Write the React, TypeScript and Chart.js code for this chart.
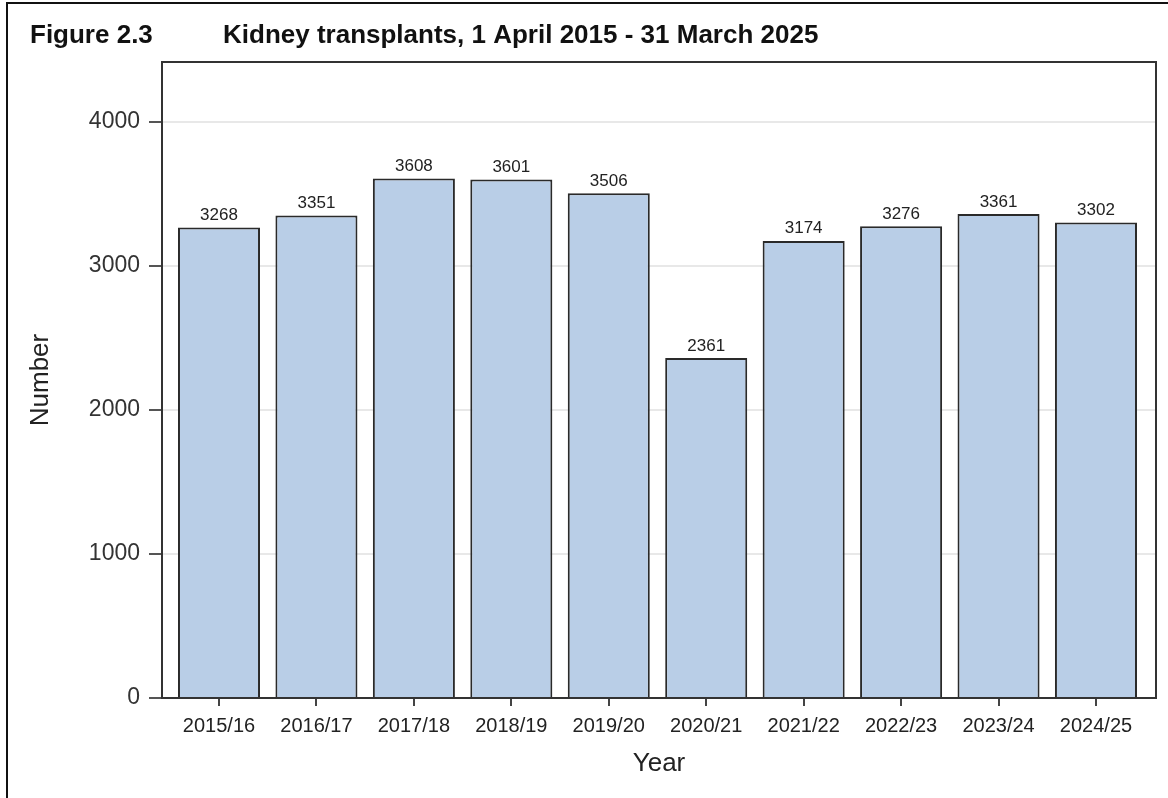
import React, { useEffect, useRef } from "react";
import { Chart, registerables } from "chart.js";

Chart.register(...registerables);

const categories = ["2015/16", "2016/17", "2017/18", "2018/19", "2019/20", "2020/21", "2021/22", "2022/23", "2023/24", "2024/25"];
const transplants = [3268, 3351, 3608, 3601, 3506, 2361, 3174, 3276, 3361, 3302];
const yTicks = [0, 1000, 2000, 3000, 4000];
const figureLabel = "Figure 2.3";
const figureTitle = "Kidney transplants, 1 April 2015 - 31 March 2025";
const yTitle = "Number";
const xTitle = "Year";

const FONT = "'Liberation Sans', Arial, sans-serif";

const decorPlugin = {
  id: "decor",
  beforeDraw(chart: any) {
    const ctx = chart.ctx;
    ctx.save();
    ctx.fillStyle = "#ffffff";
    ctx.fillRect(0, 0, chart.width, chart.height);
    // outer figure border (top + left)
    ctx.strokeStyle = "#111";
    ctx.lineWidth = 2;
    ctx.beginPath();
    ctx.moveTo(7, chart.height);
    ctx.lineTo(7, 3);
    ctx.lineTo(chart.width, 3);
    ctx.stroke();
    // titles
    ctx.fillStyle = "#111";
    ctx.font = `bold 26px ${FONT}`;
    ctx.textBaseline = "alphabetic";
    ctx.textAlign = "left";
    ctx.fillText(figureLabel, 30, 43);
    ctx.fillText(figureTitle, 223, 43);
    ctx.restore();
  },
  afterDatasetsDraw(chart: any) {
    const ctx = chart.ctx;
    const area = chart.chartArea;
    ctx.save();
    // data labels
    const meta = chart.getDatasetMeta(0);
    ctx.fillStyle = "#222";
    ctx.font = `17px ${FONT}`;
    ctx.textAlign = "center";
    ctx.textBaseline = "alphabetic";
    meta.data.forEach((el: any, i: number) => {
      ctx.fillText(String(transplants[i]), el.x, el.y - 7.5);
    });
    // frame top + right
    ctx.strokeStyle = "#333";
    ctx.lineWidth = 2;
    ctx.beginPath();
    ctx.moveTo(area.left, area.top);
    ctx.lineTo(area.right, area.top);
    ctx.lineTo(area.right, area.bottom);
    ctx.stroke();
    // axis titles
    ctx.fillStyle = "#222";
    ctx.font = `26px ${FONT}`;
    ctx.textAlign = "center";
    ctx.textBaseline = "middle";
    ctx.fillText(xTitle, (area.left + area.right) / 2, 764);
    ctx.translate(41, (area.top + area.bottom) / 2);
    ctx.rotate(-Math.PI / 2);
    ctx.fillText(yTitle, 0, 0);
    ctx.restore();
  },
};

export default function App() {
  const ref = useRef<HTMLCanvasElement | null>(null);
  useEffect(() => {
    if (!ref.current) return;
    const chart = new Chart(ref.current, {
      type: "bar",
      data: {
        datasets: [
          {
            data: transplants.map((v, i) => ({ x: i, y: v })),
            backgroundColor: "#b9cee7",
            borderColor: "#2a2a2a",
            borderWidth: 2,
            categoryPercentage: 1,
            barPercentage: 0.842,
          } as any,
        ],
      },
      options: {
        responsive: false,
        animation: false,
        devicePixelRatio: 1,
        layout: { padding: { left: 0, top: 62, right: 12, bottom: 0 } },
        plugins: { legend: { display: false }, tooltip: { enabled: false }, title: { display: false } },
        scales: {
          x: {
            type: "linear",
            offset: false,
            min: -0.585,
            max: 9.616,
            afterBuildTicks: (scale: any) => {
              scale.ticks = categories.map((_, i) => ({ value: i }));
            },
            afterFit: (scale: any) => {
              scale.height = 100;
            },
            ticks: {
              autoSkip: false,
              maxRotation: 0,
              padding: 8,
              color: "#222",
              font: { family: FONT, size: 20 },
              callback: (v: any) => categories[v] ?? "",
            },
            grid: { offset: false, drawOnChartArea: false, tickLength: 8, tickColor: "#444", lineWidth: 2 },
            border: { display: true, color: "#333", width: 2 },
          },
          y: {
            type: "linear",
            min: 0,
            max: 4417,
            afterBuildTicks: (scale: any) => {
              scale.ticks = yTicks.map((v) => ({ value: v }));
            },
            afterFit: (scale: any) => {
              scale.width = 162;
            },
            ticks: {
              padding: 9,
              color: "#333",
              font: { family: FONT, size: 23 },
              callback: (v: any) => String(v),
            },
            grid: { color: "#e8e8e8", lineWidth: 2, tickLength: 13, tickColor: "#555", tickWidth: 2 },
            border: { display: true, color: "#333", width: 2 },
          },
        },
      },
      plugins: [decorPlugin],
    });
    return () => chart.destroy();
  }, []);
  return (
    <canvas
      ref={ref}
      width={1168}
      height={798}
      style={{ position: "fixed", left: 0, top: 0, width: 1168, height: 798 }}
    />
  );
}
